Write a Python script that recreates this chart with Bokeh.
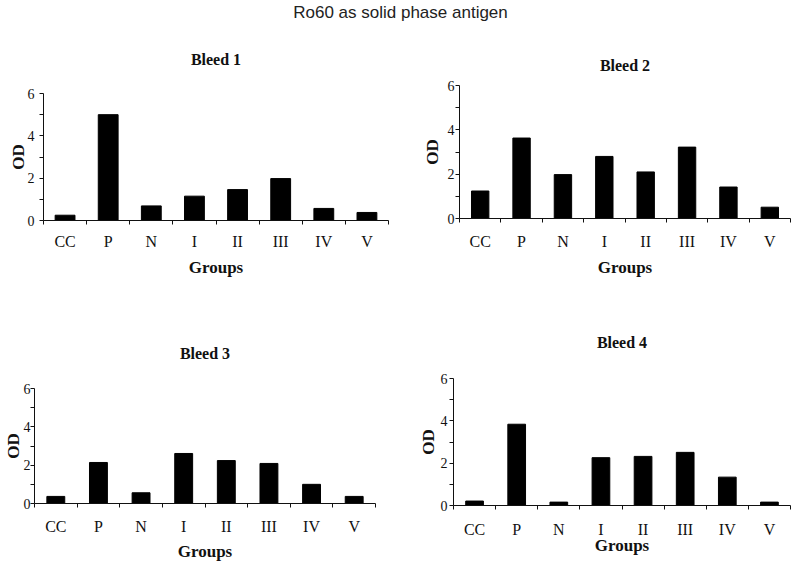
from bokeh.plotting import figure
from bokeh.layouts import column, row
from bokeh.models import FixedTicker, Range1d
from bokeh.embed import file_html
from bokeh.resources import INLINE

# ---- data ----
groups = ["CC", "P", "N", "I", "II", "III", "IV", "V"]
bleed1 = [0.25, 5.00, 0.69, 1.15, 1.46, 1.98, 0.57, 0.38]
bleed2 = [1.24, 3.63, 1.98, 2.80, 2.10, 3.22, 1.42, 0.51]
bleed3 = [0.37, 2.14, 0.56, 2.61, 2.24, 2.09, 1.00, 0.37]
bleed4 = [0.21, 3.84, 0.16, 2.26, 2.32, 2.51, 1.34, 0.16]
y_major = [0, 2, 4, 6]
y_minor = [1, 3, 5]
main_title = "Ro60 as solid phase antigen"
panel_titles = ["Bleed 1", "Bleed 2", "Bleed 3", "Bleed 4"]
x_label = "Groups"
y_label = "OD"

SERIF = "Liberation Serif"
INK = "#111111"


def make_panel(title, values, width, height, borders, title_standoff, title_offset,
               bar_width, xlab_standoff, xaxlab_standoff, ylab_standoff, yaxlab_standoff):
    idx = list(range(len(groups)))
    p = figure(width=width, height=height, title=title,
               x_range=Range1d(-0.5, len(groups) - 0.5),
               y_range=Range1d(0, 6),
               toolbar_location=None, output_backend="svg")
    left, right, top, bottom = borders
    p.min_border_left = left
    p.min_border_right = right
    p.min_border_top = top
    p.min_border_bottom = bottom
    p.outline_line_color = None
    p.grid.visible = False
    p.background_fill_color = "white"
    p.border_fill_color = "white"

    p.vbar(x=idx, top=values, width=bar_width, bottom=0,
           fill_color="black", line_color="black")

    # title
    p.title.align = "center"
    p.title.offset = title_offset
    p.title.text_font = SERIF
    p.title.text_font_style = "bold"
    p.title.text_font_size = "16px"
    p.title.text_color = INK
    p.title.standoff = title_standoff

    # x axis: labels at category centres, small ticks between categories
    xa = p.xaxis[0]
    boundaries = [i - 0.5 for i in range(len(groups) + 1)]
    xa.ticker = FixedTicker(ticks=idx, minor_ticks=boundaries)
    xa.major_label_overrides = {i: g for i, g in zip(idx, groups)}
    xa.major_tick_line_color = None
    xa.major_tick_out = 4
    xa.major_tick_in = 0
    xa.minor_tick_out = 4
    xa.minor_tick_in = 0
    xa.minor_tick_line_color = INK
    xa.axis_line_color = INK
    xa.major_label_text_font = SERIF
    xa.major_label_text_font_size = "16px"
    xa.major_label_text_color = INK
    xa.major_label_standoff = xlab_standoff
    xa.axis_label = x_label
    xa.axis_label_text_font = SERIF
    xa.axis_label_text_font_style = "bold"
    xa.axis_label_text_font_size = "17px"
    xa.axis_label_text_color = INK
    xa.axis_label_standoff = xaxlab_standoff

    # y axis
    ya = p.yaxis[0]
    ya.ticker = FixedTicker(ticks=y_major, minor_ticks=y_minor)
    ya.major_tick_out = 4
    ya.major_tick_in = 0
    ya.minor_tick_out = 4
    ya.minor_tick_in = 0
    ya.major_tick_line_color = INK
    ya.minor_tick_line_color = INK
    ya.axis_line_color = INK
    ya.major_label_text_font = SERIF
    ya.major_label_text_font_size = "14px"
    ya.major_label_text_color = INK
    ya.major_label_standoff = ylab_standoff
    ya.axis_label = y_label
    ya.axis_label_text_font = SERIF
    ya.axis_label_text_font_style = "bold"
    ya.axis_label_text_font_size = "17px"
    ya.axis_label_text_color = INK
    ya.axis_label_standoff = yaxlab_standoff
    return p


head = figure(width=800, height=22, title=main_title,
              toolbar_location=None, output_backend="svg",
              x_range=Range1d(0, 1), y_range=Range1d(0, 1))
head.axis.visible = False
head.grid.visible = False
head.outline_line_color = None
head.min_border = 0
head.title.align = "center"
head.title.offset = 7
head.title.text_font = "Liberation Sans"
head.title.text_font_style = "normal"
head.title.text_font_size = "17px"
head.title.text_color = "#222222"
head.title.standoff = 0

#                                              borders (l, r, t, b)  stand off  barw  xls xas yls yas
p1 = make_panel(panel_titles[0], bleed1, 400, 278, (43, 12, 71, 80), 52, 0, 0.46, 8, 5, 5, -3)
p2 = make_panel(panel_titles[1], bleed2, 400, 278, (59, 10, 63, 82), 24, -10, 0.42, 10, 5, 1, 3)
p3 = make_panel(panel_titles[2], bleed3, 400, 265, (33, 25, 88, 62), 54, 3, 0.42, 10, 4, 0, -2)
p4 = make_panel(panel_titles[3], bleed4, 400, 265, (53, 10, 78, 60), 56, -8, 0.42, 11, -5, 2, 0)

layout = column(head,
                row(column(p1), column(p2)),
                row(column(p3), column(p4)))
open("out.html", "w").write(file_html(layout, INLINE))
